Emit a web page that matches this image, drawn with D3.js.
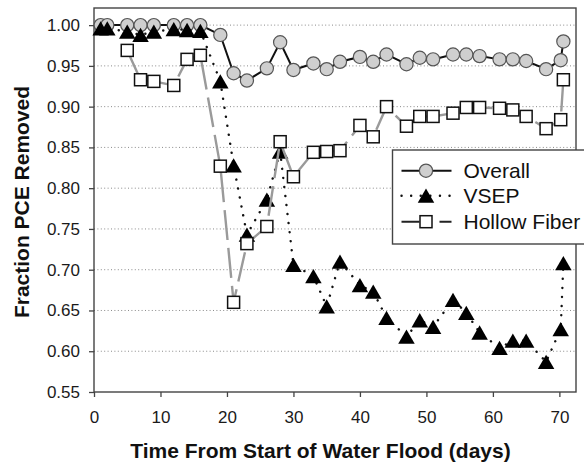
<!DOCTYPE html>
<html>
<head>
<meta charset="utf-8">
<script src="https://cdn.jsdelivr.net/npm/d3@7"></script>
<style>
  body { margin: 0; background: #fff; }
  svg { display: block; font-family: "Liberation Sans", Arial, Helvetica, sans-serif; }
</style>
</head>
<body>
<div id="chart"></div>
<script>
// values
const days = [1, 2, 5, 7, 9, 12, 14, 16, 19, 21, 23, 26, 28, 30, 33, 35, 37, 40, 42, 44,
              47, 49, 51, 54, 56, 58, 61, 63, 65, 68, 70.2, 70.6];
const overall = [1.0, 1.0, 1.0, 1.0, 1.0, 1.0, 1.0, 1.0, 0.988, 0.941, 0.932, 0.947, 0.979, 0.945,
                 0.953, 0.946, 0.955, 0.961, 0.955, 0.964, 0.952, 0.960, 0.958, 0.964, 0.964,
                 0.962, 0.958, 0.958, 0.956, 0.946, 0.957, 0.980];
const vsep = [0.996, 0.996, 0.992, 0.988, 0.992, 0.995, 0.994, 0.993, 0.931, 0.828, 0.743, 0.786,
              0.845, 0.706, 0.692, 0.655, 0.710, 0.681, 0.673, 0.641, 0.618, 0.638, 0.630, 0.663,
              0.647, 0.623, 0.604, 0.613, 0.613, 0.587, 0.627, 0.708];
const hollowFiber = [null, null, 0.969, 0.933, 0.931, 0.926, 0.958, 0.963, 0.827, 0.660, 0.732,
                     0.753, 0.857, 0.814, 0.844, 0.845, 0.846, 0.877, 0.863, 0.900, 0.876, 0.888,
                     0.888, 0.892, 0.899, 0.899, 0.898, 0.896, 0.888, 0.873, 0.884, 0.933];
const xTicks = [0, 10, 20, 30, 40, 50, 60, 70];
const yTicks = [0.55, 0.60, 0.65, 0.70, 0.75, 0.80, 0.85, 0.90, 0.95, 1.00];
const seriesNames = ["Overall", "VSEP", "Hollow Fiber"];
const xTitle = "Time From Start of Water Flood (days)";
const yTitle = "Fraction PCE Removed";


class RemovalChart {

    constructor(parentElement) {
        this.parentElement = parentElement;
        this.initVis();
    }

    initVis() {
        let vis = this;

        vis.margin = {top: 8, right: 8, bottom: 72, left: 94};
        vis.width = 584 - vis.margin.left - vis.margin.right;
        vis.height = 464 - vis.margin.top - vis.margin.bottom;

        vis.root = d3.select("#" + vis.parentElement).append("svg")
            .attr("width", 584)
            .attr("height", 464);

        vis.svg = vis.root.append("g")
            .attr("transform", `translate(${vis.margin.left},${vis.margin.top})`);

        // scales (frame runs a bit past the last tick on both axes)
        vis.x = d3.scaleLinear().domain([0, 72.5]).range([0, vis.width]);
        vis.y = d3.scaleLinear().domain([0.55, 1.021]).range([vis.height, 0]);

        // dotted gridlines
        vis.svg.append("g")
            .selectAll("line")
            .data(yTicks.filter(d => d > 0.55))
            .enter().append("line")
            .attr("x1", 0)
            .attr("x2", vis.width)
            .attr("y1", d => vis.y(d))
            .attr("y2", d => vis.y(d))
            .attr("stroke", "#8a8a8a")
            .attr("stroke-width", 1)
            .attr("stroke-dasharray", "1,2.4");

        // axes
        vis.yAxis = d3.axisLeft(vis.y)
            .tickValues(yTicks)
            .tickSize(5)
            .tickPadding(9)
            .tickFormat(d3.format(".2f"));

        vis.xAxis = d3.axisBottom(vis.x)
            .tickValues(xTicks)
            .tickSize(5)
            .tickPadding(14);

        let gy = vis.svg.append("g").call(vis.yAxis);
        let gx = vis.svg.append("g")
            .attr("transform", `translate(0,${vis.height})`)
            .call(vis.xAxis);

        [gx, gy].forEach(g => {
            g.select(".domain").remove();
            g.selectAll(".tick line").attr("stroke", "#444").attr("stroke-width", 1.3);
            g.selectAll(".tick text")
                .attr("fill", "#1a1a1a")
                .style("font-size", "17px")
                .style("font-family", "'Liberation Sans', Arial, sans-serif");
        });

        // plot frame
        vis.svg.append("rect")
            .attr("width", vis.width)
            .attr("height", vis.height)
            .attr("fill", "none")
            .attr("stroke", "#444")
            .attr("stroke-width", 1.4);

        // axis titles
        vis.root.append("text")
            .attr("x", 320.5)
            .attr("y", 458)
            .attr("text-anchor", "middle")
            .attr("font-weight", "bold")
            .attr("font-size", 21)
            .attr("fill", "#111")
            .text(xTitle);

        vis.root.append("text")
            .attr("transform", "translate(29,202) rotate(-90)")
            .attr("text-anchor", "middle")
            .attr("font-weight", "bold")
            .attr("font-size", 21)
            .attr("fill", "#111")
            .text(yTitle);

        this.wrangleData();
    }

    wrangleData() {
        let vis = this;

        vis.series = [overall, vsep, hollowFiber].map(vals =>
            days.map((d, i) => ({day: d, v: vals[i]})).filter(p => p.v != null));

        vis.updateVis();
    }

    // triangle with its bounding box centred on the point
    triPath(side) {
        let h = side * Math.sqrt(3) / 2;
        return `M0,${-h / 2}L${side / 2},${h / 2}L${-side / 2},${h / 2}Z`;
    }

    updateVis() {
        let vis = this;

        let line = d3.line()
            .x(d => vis.x(d.day))
            .y(d => vis.y(d.v));

        // Overall
        vis.svg.append("path")
            .datum(vis.series[0])
            .attr("d", line)
            .attr("fill", "none")
            .attr("stroke", "#111")
            .attr("stroke-width", 2);

        vis.svg.append("g").selectAll("circle")
            .data(vis.series[0])
            .enter().append("circle")
            .attr("cx", d => vis.x(d.day))
            .attr("cy", d => vis.y(d.v))
            .attr("r", 6.6)
            .attr("fill", "#cfcfcf")
            .attr("stroke", "#555")
            .attr("stroke-width", 1.2);

        // VSEP
        vis.svg.append("path")
            .datum(vis.series[1])
            .attr("d", line)
            .attr("fill", "none")
            .attr("stroke", "#111")
            .attr("stroke-width", 2.4)
            .attr("stroke-linecap", "round")
            .attr("stroke-dasharray", "0.1,9");

        vis.svg.append("g").selectAll("path")
            .data(vis.series[1])
            .enter().append("path")
            .attr("transform", d => `translate(${vis.x(d.day)},${vis.y(d.v)})`)
            .attr("d", vis.triPath(16.5))
            .attr("fill", "#000");

        // Hollow Fiber
        vis.svg.append("path")
            .datum(vis.series[2])
            .attr("d", line)
            .attr("fill", "none")
            .attr("stroke", "#9a9a9a")
            .attr("stroke-width", 2.4)
            .attr("stroke-dasharray", "30,8");

        vis.svg.append("g").selectAll("rect")
            .data(vis.series[2])
            .enter().append("rect")
            .attr("x", d => vis.x(d.day) - 6)
            .attr("y", d => vis.y(d.v) - 6)
            .attr("width", 12)
            .attr("height", 12)
            .attr("fill", "#fff")
            .attr("stroke", "#111")
            .attr("stroke-width", 1.5);

        // legend
        vis.legend = vis.root.append("g")
            .attr("transform", "translate(392.5,150)");

        vis.legend.append("rect")
            .attr("width", 230)
            .attr("height", 94)
            .attr("fill", "#fff")
            .attr("stroke", "#444")
            .attr("stroke-width", 1.4);

        let rows = vis.legend.selectAll(".row")
            .data(seriesNames)
            .enter().append("g")
            .attr("class", "row")
            .attr("transform", (d, i) => `translate(0,${[20.7, 45.7, 71.7][i]})`);

        rows.append("line")
            .attr("x1", 9)
            .attr("x2", 59)
            .attr("stroke", (d, i) => i === 2 ? "#222" : "#111")
            .attr("stroke-width", (d, i) => i === 1 ? 2.4 : 2)
            .attr("stroke-linecap", (d, i) => i === 1 ? "round" : "butt")
            .attr("stroke-dasharray", (d, i) => ["none", "0.1,9.5", "18,20,12"][i]);

        rows.each(function(d, i) {
            let g = d3.select(this);
            if (i === 0) {
                g.append("circle").attr("cx", 33.5).attr("r", 6.6)
                    .attr("fill", "#cfcfcf").attr("stroke", "#555").attr("stroke-width", 1.2);
            } else if (i === 1) {
                g.append("path").attr("transform", "translate(33.5,0)")
                    .attr("d", vis.triPath(16.5)).attr("fill", "#000");
            } else {
                g.append("rect").attr("x", 27.5).attr("y", -6).attr("width", 12).attr("height", 12)
                    .attr("fill", "#fff").attr("stroke", "#111").attr("stroke-width", 1.5);
            }
        });

        rows.append("text")
            .attr("x", 71)
            .attr("y", 7.5)
            .attr("font-size", 21)
            .attr("fill", "#111")
            .text(d => d);
    }
}

new RemovalChart("chart");
</script>
</body>
</html>
